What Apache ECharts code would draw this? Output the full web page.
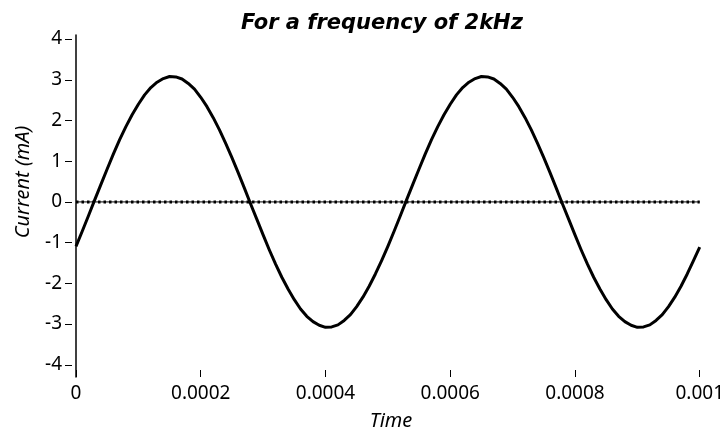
<!DOCTYPE html>
<html>
<head>
<meta charset="utf-8">
<script src="https://cdn.jsdelivr.net/npm/echarts@6/dist/echarts.min.js"></script>
<style>html,body{margin:0;padding:0;background:#fff;}#c{width:727px;height:435px;}</style>
</head>
<body>
<div id="c"></div>
<script>
var titleText = 'For a frequency of 2kHz';
var xName = 'Time';
var yName = 'Current (mA)';
var times = [0,0.00001,0.00002,0.00003,0.00004,0.00005,0.00006,0.00007,0.00008,0.00009,
  0.0001,0.00011,0.00012,0.00013,0.00014,0.00015,0.00016,0.00017,0.00018,0.00019,
  0.0002,0.00021,0.00022,0.00023,0.00024,0.00025,0.00026,0.00027,0.00028,0.00029,
  0.0003,0.00031,0.00032,0.00033,0.00034,0.00035,0.00036,0.00037,0.00038,0.00039,
  0.0004,0.00041,0.00042,0.00043,0.00044,0.00045,0.00046,0.00047,0.00048,0.00049,
  0.0005,0.00051,0.00052,0.00053,0.00054,0.00055,0.00056,0.00057,0.00058,0.00059,
  0.0006,0.00061,0.00062,0.00063,0.00064,0.00065,0.00066,0.00067,0.00068,0.00069,
  0.0007,0.00071,0.00072,0.00073,0.00074,0.00075,0.00076,0.00077,0.00078,0.00079,
  0.0008,0.00081,0.00082,0.00083,0.00084,0.00085,0.00086,0.00087,0.00088,0.00089,
  0.0009,0.00091,0.00092,0.00093,0.00094,0.00095,0.00096,0.00097,0.00098,0.00099,0.001];
var current = [-1.09,-0.72,-0.34,0.05,0.43,0.81,1.18,1.53,1.85,2.14,
  2.40,2.63,2.81,2.94,3.03,3.08,3.07,3.02,2.91,2.77,
  2.57,2.34,2.07,1.77,1.44,1.09,0.72,0.34,-0.05,-0.43,
  -0.81,-1.18,-1.53,-1.85,-2.14,-2.40,-2.63,-2.81,-2.94,-3.03,
  -3.08,-3.07,-3.02,-2.91,-2.77,-2.57,-2.34,-2.07,-1.77,-1.44,
  -1.09,-0.72,-0.34,0.05,0.43,0.81,1.18,1.53,1.85,2.14,
  2.40,2.63,2.81,2.94,3.03,3.08,3.07,3.02,2.91,2.77,
  2.57,2.34,2.07,1.77,1.44,1.09,0.72,0.34,-0.05,-0.43,
  -0.81,-1.18,-1.53,-1.85,-2.14,-2.40,-2.63,-2.81,-2.94,-3.03,
  -3.08,-3.07,-3.02,-2.91,-2.77,-2.57,-2.34,-2.07,-1.77,-1.44,-1.11];
var zeroTimes = [0,0.001];
var zeroValues = [0,0];
var xTicks = [0,0.0002,0.0004,0.0006,0.0008,0.001];
var xTickLabels = ['0','0.0002','0.0004','0.0006','0.0008','0.001'];
var yTicks = [-4,-3,-2,-1,0,1,2,3,4];
var yTickLabels = ['-4','-3','-2','-1','0','1','2','3','4'];

function pairs(xs, ys){ return xs.map(function(x,i){return [x, ys[i]];}); }

var chart = echarts.init(document.getElementById('c'), null, {renderer:'canvas'});
var font = 'Noto Sans';
chart.setOption({
  animation:false,
  backgroundColor:'#fff',
  grid:{left:76, right:26, top:35, bottom:58},
  title:{text:titleText, left:236, top:8, textStyle:{fontFamily:'DejaVu Sans', fontWeight:'bold', fontStyle:'italic', fontSize:21, color:'#000'}},
  xAxis:{type:'value', min:0, max:0.001, interval:0.0002,
    axisLine:{show:false, onZero:false},
    axisTick:{show:true, inside:true, length:7, lineStyle:{color:'#000', width:1}, customValues:xTicks},
    axisLabel:{fontFamily:font, fontSize:19, color:'#000', margin:7, customValues:xTicks,
      formatter:function(v){ var i = xTicks.findIndex(function(t){return Math.abs(t-v)<1e-9;}); return i>=0?xTickLabels[i]:''; }},
    splitLine:{show:false}},
  yAxis:[
    {type:'value', min:-4.3, max:4.1,
     axisLine:{show:true, onZero:false, lineStyle:{color:'#000', width:1.5}},
     axisTick:{show:false}, axisLabel:{show:false}, splitLine:{show:false}},
    {type:'value', min:-4.3, max:4.1, position:'left', offset:4,
     axisLine:{show:false, onZero:false},
     axisTick:{show:true, length:7, lineStyle:{color:'#000', width:1}, customValues:yTicks},
     axisLabel:{fontFamily:font, fontSize:19, color:'#000', margin:10, customValues:yTicks,
       formatter:function(v){ var i = yTicks.findIndex(function(t){return Math.abs(t-v)<1e-9;}); return i>=0?yTickLabels[i]:''; }},
     splitLine:{show:false}}
  ],
  graphic:[
    {type:'text', x:391, y:421, style:{text:xName, fontFamily:font, fontStyle:'italic', fontSize:20, fill:'#000', align:'center', verticalAlign:'middle'}},
    {type:'text', x:23, y:182, rotation:Math.PI/2, style:{text:yName, fontFamily:font, fontStyle:'italic', fontSize:20, fill:'#000', align:'center', verticalAlign:'middle'}}
  ],
  series:[
    {type:'line', data:pairs(zeroTimes, zeroValues), symbol:'none', lineStyle:{color:'#000', width:1}, z:2},
    {type:'line', data:pairs(zeroTimes, zeroValues), symbol:'none', lineStyle:{color:'#000', width:3, type:[2.5,3]}, z:2},
    {type:'line', data:pairs(times, current), symbol:'none', smooth:false, lineStyle:{color:'#000', width:3, join:'round'}, z:3}
  ]
});
</script>
</body>
</html>
